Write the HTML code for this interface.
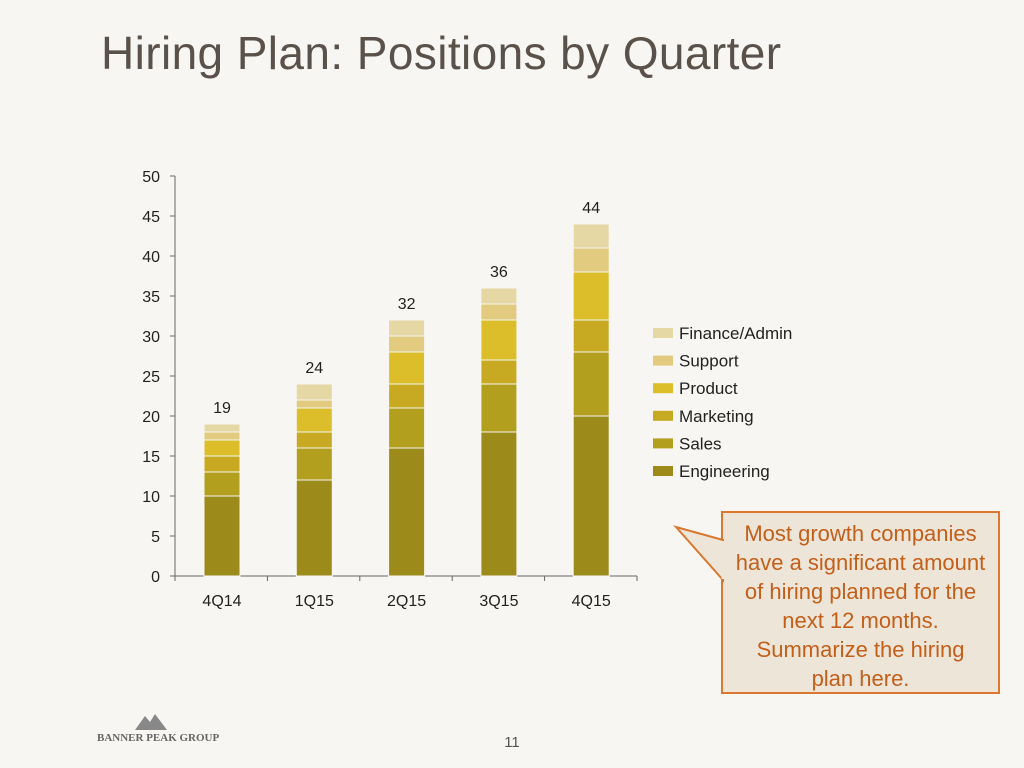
<!DOCTYPE html>
<html><head><meta charset="utf-8"><style>
body{margin:0;width:1024px;height:768px;background:#f7f6f2;font-family:"Liberation Sans",sans-serif;position:relative;overflow:hidden}
.t{position:absolute}
</style></head><body>
<div class="t" style="left:101px;top:26px;font-size:46px;letter-spacing:0.4px;color:#5a524a">Hiring Plan: Positions by Quarter</div>
<svg id="chart" width="1024" height="768" style="position:absolute;left:0;top:0"></svg>
<div style="position:absolute;left:721px;top:511px;width:279px;height:183px;background:#ece5d8;border:2px solid #d9782e;font-size:22px;line-height:29px;color:#c45f1a;text-align:center;padding-top:6px;box-sizing:border-box;white-space:nowrap">Most growth companies<br>have a significant amount<br>of hiring planned for the<br>next 12 months.<br>Summarize the hiring<br>plan here.</div>
<svg width="1024" height="768" style="position:absolute;left:0;top:0;pointer-events:none">
<polygon points="723,540 676,527 723,580" fill="#ece5d8" stroke="#d9782e" stroke-width="2"/>
<line x1="723" y1="541" x2="723" y2="579" stroke="#ece5d8" stroke-width="3"/>
<polygon points="135,730 145,716 150,722 155,714 167,730" fill="#888"/>
<text x="97" y="741" font-family="Liberation Serif" font-size="11" font-weight="bold" fill="#666">BANNER PEAK GROUP</text>
<text x="512" y="747" text-anchor="middle" font-size="15" fill="#555">11</text>
</svg>
<script>
const categories=["4Q14","1Q15","2Q15","3Q15","4Q15"];
const seriesNames=["Engineering","Sales","Marketing","Product","Support","Finance/Admin"];
const engineering=[10,12,16,18,20];
const sales=[3,4,5,6,8];
const marketing=[2,2,3,3,4];
const product=[2,3,4,5,6];
const support=[1,1,2,2,3];
const finance=[1,2,2,2,3];
const yTicks=[0,5,10,15,20,25,30,35,40,45,50];
const colors=["#9c8a1a","#b39f1e","#c7aa22","#dbbe2a","#e2cb7e","#e6d8a4"];
const series=[engineering,sales,marketing,product,support,finance];
const svg=document.getElementById('chart');const NS="http://www.w3.org/2000/svg";
const y=v=>576-v*8;const x=i=>222+i*92.3;
function mk(t,a){const e=document.createElementNS(NS,t);for(const k in a)e.setAttribute(k,a[k]);svg.appendChild(e);return e;}
let ax=mk('line',{x1:175,y1:176,x2:175,y2:576,stroke:'#666'});


let xa=mk('line',{x1:175,y1:576,x2:637,y2:576,stroke:'#666'});


yTicks.forEach(v=>{mk('line',{x1:170,y1:y(v),x2:175,y2:y(v),stroke:'#666'});
const t=mk('text',{x:160,y:y(v)+6,'text-anchor':'end','font-size':16,fill:'#222'});t.textContent=v;

});
for(let i=0;i<=categories.length;i++)mk('line',{x1:175+i*92.4,y1:576,x2:175+i*92.4,y2:581,stroke:'#666'});
categories.forEach((c,i)=>{let cum=0;
series.forEach((s,k)=>{const r=mk('rect',{x:x(i)-18,y:y(cum+s[i]),width:36,height:s[i]*8,fill:colors[k],stroke:'#f7f6f2','stroke-width':1});

cum+=s[i];});
const tl=mk('text',{x:x(i),y:y(cum)-11,'text-anchor':'middle','font-size':16,fill:'#222'});tl.textContent=cum;


const xl=mk('text',{x:x(i),y:606,'text-anchor':'middle','font-size':16,fill:'#222'});xl.textContent=c;

});
for(let k=5;k>=0;k--){const yy=333+(5-k)*27.6;
const r=mk('rect',{x:653,y:yy-5,width:20,height:10,fill:colors[k]});


const t=mk('text',{x:679,y:yy+6,'font-size':17,fill:'#222'});t.textContent=seriesNames[k];

}
</script>
</body></html>
